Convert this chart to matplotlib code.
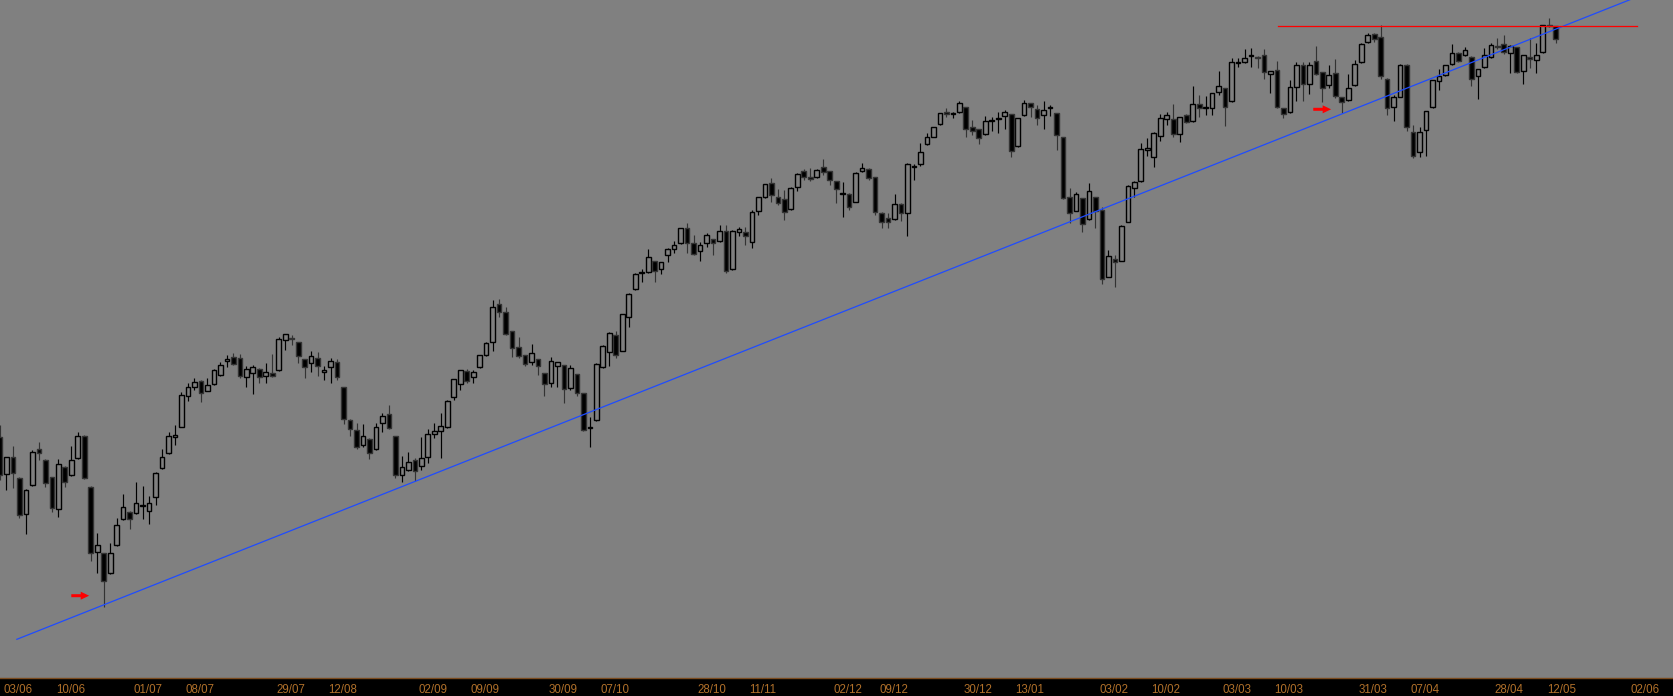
import matplotlib
matplotlib.use("Agg")
import matplotlib.pyplot as plt
import matplotlib.transforms as mtransforms
import numpy as np

# OHLC values, one per bar
opens = [263, 226, 243, 222, 186, 215, 251, 240, 223, 191,
         233, 225, 242, 264, 213, 148, 147, 127, 155, 181,
         188, 187, 194, 189, 203, 232, 247, 263, 273, 304,
         313, 319, 309, 316, 325, 339, 343, 342, 323, 327,
         331, 324, 327, 330, 360, 362, 358, 341, 337, 342,
         328, 333, 338, 313, 280, 270, 255, 261, 251, 277,
         286, 264, 225, 230, 240, 234, 243, 266, 269, 273,
         303, 316, 329, 323, 333, 345, 358, 396, 388, 369,
         353, 345, 338, 341, 327, 317, 334, 335, 312, 326,
         307, 272, 280, 333, 348, 365, 349, 383, 411, 427,
         428, 439, 431, 445, 451, 457, 472, 457, 449, 457,
         461, 459, 469, 431, 468, 468, 458, 489, 503, 517,
         503, 501, 491, 513, 529, 523, 523, 533, 529, 519,
         506, 506, 498, 529, 531, 523, 487, 482, 481, 496,
         487, 533, 536, 556, 563, 576, 588, 586, 588, 593,
         573, 571, 566, 579, 581, 584, 586, 554, 585, 597,
         591, 585, 592, 587, 563, 503, 489, 502, 481, 503,
         490, 423, 441, 439, 478, 512, 519, 550, 543, 564,
         581, 581, 566, 585, 579, 596, 592, 592, 608, 612,
         599, 637, 638, 644, 643, 645, 626, 630, 592, 588,
         613, 635, 616, 639, 628, 615, 627, 603, 600, 615,
         638, 658, 666, 663, 621, 593, 603, 635, 568, 548,
         570, 593, 619, 625, 636, 647, 645, 643, 624, 633,
         643, 654, 656, 647, 653, 629, 643, 640, 648, 675,
         674]
highs = [275, 243, 254, 223, 211, 250, 258, 241, 223, 241,
         234, 254, 268, 265, 214, 167, 147, 157, 182, 206,
         189, 218, 214, 204, 228, 251, 268, 275, 308, 317,
         322, 320, 322, 331, 338, 345, 347, 346, 334, 335,
         332, 337, 346, 363, 366, 365, 358, 341, 349, 348,
         334, 342, 341, 313, 281, 277, 276, 262, 277, 287,
         295, 264, 244, 248, 242, 263, 271, 277, 287, 300,
         321, 330, 331, 330, 345, 358, 400, 401, 393, 369,
         363, 345, 356, 341, 327, 343, 338, 335, 335, 326,
         307, 283, 337, 355, 368, 369, 386, 407, 427, 431,
         451, 439, 438, 452, 459, 472, 477, 465, 458, 467,
         461, 475, 475, 470, 473, 473, 490, 503, 516, 522,
         511, 510, 513, 527, 531, 532, 531, 541, 529, 519,
         518, 507, 528, 537, 532, 523, 488, 487, 506, 497,
         537, 536, 557, 567, 573, 587, 592, 588, 599, 593,
         580, 571, 584, 583, 588, 590, 586, 582, 600, 597,
         595, 599, 595, 587, 563, 512, 508, 502, 517, 503,
         493, 450, 445, 475, 515, 519, 557, 562, 568, 586,
         588, 596, 583, 586, 614, 605, 604, 607, 629, 612,
         642, 642, 651, 652, 644, 651, 629, 639, 592, 620,
         638, 638, 638, 654, 628, 635, 641, 603, 626, 640,
         657, 667, 667, 675, 622, 605, 636, 636, 575, 573,
         589, 620, 631, 635, 656, 648, 653, 644, 631, 652,
         657, 662, 665, 655, 653, 645, 662, 657, 675, 682,
         674]
lows = [220, 210, 212, 182, 166, 214, 240, 213, 188, 183,
        213, 224, 241, 221, 139, 127, 93, 126, 154, 180,
        171, 186, 181, 176, 195, 231, 246, 255, 273, 299,
        310, 298, 309, 315, 324, 333, 335, 322, 313, 306,
        317, 317, 323, 329, 350, 355, 337, 322, 328, 324,
        320, 317, 320, 276, 264, 251, 253, 241, 250, 268,
        271, 222, 218, 229, 219, 230, 237, 262, 242, 272,
        300, 310, 317, 317, 332, 344, 349, 383, 365, 343,
        342, 334, 335, 325, 304, 313, 313, 297, 310, 304,
        269, 253, 279, 332, 334, 342, 349, 373, 410, 418,
        427, 418, 426, 438, 447, 456, 447, 445, 439, 453,
        445, 458, 427, 430, 464, 455, 452, 485, 502, 498,
        495, 480, 490, 509, 520, 519, 522, 525, 515, 497,
        483, 490, 498, 528, 520, 485, 472, 472, 480, 479,
        464, 520, 534, 555, 563, 575, 583, 582, 587, 563,
        565, 556, 565, 569, 567, 571, 543, 553, 584, 583,
        575, 571, 584, 550, 501, 477, 489, 468, 480, 472,
        416, 423, 413, 439, 478, 503, 518, 544, 533, 559,
        575, 563, 558, 577, 578, 583, 585, 585, 605, 574,
        598, 633, 637, 633, 632, 621, 607, 592, 582, 587,
        599, 599, 606, 625, 598, 612, 602, 587, 599, 614,
        637, 657, 658, 621, 585, 579, 603, 569, 542, 543,
        544, 592, 610, 624, 635, 638, 644, 614, 601, 632,
        642, 651, 646, 627, 627, 616, 632, 627, 647, 673,
        657]
closes = [225, 243, 227, 185, 210, 248, 247, 217, 192, 236,
          218, 240, 264, 222, 147, 155, 119, 147, 175, 193,
          181, 197, 195, 197, 227, 243, 264, 265, 305, 313,
          318, 307, 315, 330, 335, 341, 336, 324, 331, 333,
          323, 328, 324, 361, 366, 361, 344, 333, 344, 334,
          330, 339, 323, 281, 271, 253, 264, 247, 273, 284,
          272, 225, 233, 238, 229, 242, 266, 269, 274, 299,
          321, 330, 319, 328, 345, 357, 393, 388, 366, 352,
          344, 336, 347, 334, 316, 339, 338, 311, 332, 307,
          270, 273, 336, 354, 367, 345, 386, 406, 426, 427,
          443, 429, 438, 451, 455, 472, 457, 446, 455, 465,
          457, 469, 429, 469, 471, 464, 488, 503, 516, 505,
          497, 488, 512, 526, 523, 521, 530, 528, 520, 511,
          506, 493, 527, 532, 522, 488, 478, 478, 496, 487,
          536, 533, 548, 563, 573, 587, 586, 586, 597, 571,
          569, 562, 579, 579, 581, 588, 549, 582, 597, 593,
          582, 590, 592, 565, 502, 487, 506, 476, 509, 489,
          421, 444, 438, 474, 514, 518, 551, 552, 567, 582,
          585, 566, 583, 578, 596, 592, 592, 607, 614, 593,
          638, 637, 642, 644, 642, 628, 629, 593, 586, 613,
          635, 616, 635, 626, 612, 625, 604, 598, 612, 636,
          656, 665, 661, 624, 592, 603, 635, 573, 544, 568,
          589, 620, 624, 635, 647, 639, 650, 621, 631, 645,
          655, 653, 648, 654, 628, 645, 641, 645, 675, 674,
          661]

# date labels along the bottom and the bar they sit on
tick_bars = [0, 8, 20, 28, 42, 50, 64, 72, 84, 92, 107, 115, 128, 135, 148,
             156, 169, 177, 188, 196, 209, 217, 230, 238, 251]
tick_labels = ["03/06", "10/06", "01/07", "08/07", "29/07", "12/08", "02/09",
               "09/09", "30/09", "07/10", "28/10", "11/11", "02/12", "09/12",
               "30/12", "13/01", "03/02", "10/02", "03/03", "10/03", "31/03",
               "07/04", "28/04", "12/05", "02/06"]

# drawn objects: trend line, resistance level, arrows
trend_bars = [2.6, 251.5]
trend_prices = [60.7, 700.4]
resist_bars = [197.2, 252.5]
resist_price = 674
arrow_bars = [11.0, 202.6]
arrow_prices = [104.3, 590.7]

o = np.array(opens, dtype=float)
h = np.array(highs, dtype=float)
l = np.array(lows, dtype=float)
c = np.array(closes, dtype=float)
x = np.arange(len(o))
up = c >= o

fig = plt.figure(figsize=(16.74, 6.96), dpi=100, facecolor="black")
ax = fig.add_axes([0, 18 / 696, 1, 678 / 696])
ax.set_facecolor("#808080")

# wicks
ax.vlines(x[up], l[up], h[up], color="#000000", lw=0.85, zorder=2)
ax.vlines(x[~up], l[~up], h[~up], color="#333333", lw=0.85, zorder=2)

# bodies
body = np.maximum(np.abs(c - o), 0.6)
bottom = np.minimum(o, c)
ax.bar(x[up], body[up], bottom=bottom[up], width=0.72, facecolor="#808080",
       edgecolor="#000000", linewidth=1.0, zorder=3)
ax.bar(x[~up], body[~up], bottom=bottom[~up], width=0.72, facecolor="#000000",
       edgecolor="#333333", linewidth=1.0, zorder=3)

# trend line and horizontal level
ax.plot(trend_bars, trend_prices, color="#1f4cff", lw=0.9, zorder=4)
ax.plot(resist_bars, [resist_price, resist_price], color="#ff0000", lw=0.9, zorder=4)

# red arrows
for ab, ap in zip(arrow_bars, arrow_prices):
    ax.arrow(ab, ap, 2.75, 0, width=3.0, head_width=8, head_length=1.3,
             length_includes_head=True, color="#ff0000", lw=0, zorder=5)

ax.set_xlim(0, 1674 / 6.482)
ax.set_ylim(22, 700)

for side in ["top", "left", "right"]:
    ax.spines[side].set_visible(False)
ax.spines["bottom"].set_color("#7a4a1e")
ax.spines["bottom"].set_linewidth(1)
ax.set_yticks([])

ax.set_xticks(tick_bars)
ax.set_xticklabels(tick_labels, family=["Liberation Sans Narrow", "Liberation Sans"],
                   fontsize=8.3, color="#b0702a")
ax.tick_params(axis="x", length=0, pad=4.5)
offset = mtransforms.ScaledTranslation(4 / 100, 0, fig.dpi_scale_trans)
for lab in ax.get_xticklabels():
    lab.set_horizontalalignment("left")
    lab.set_transform(lab.get_transform() + offset)

fig.savefig("out.png", dpi=100, facecolor="black")
